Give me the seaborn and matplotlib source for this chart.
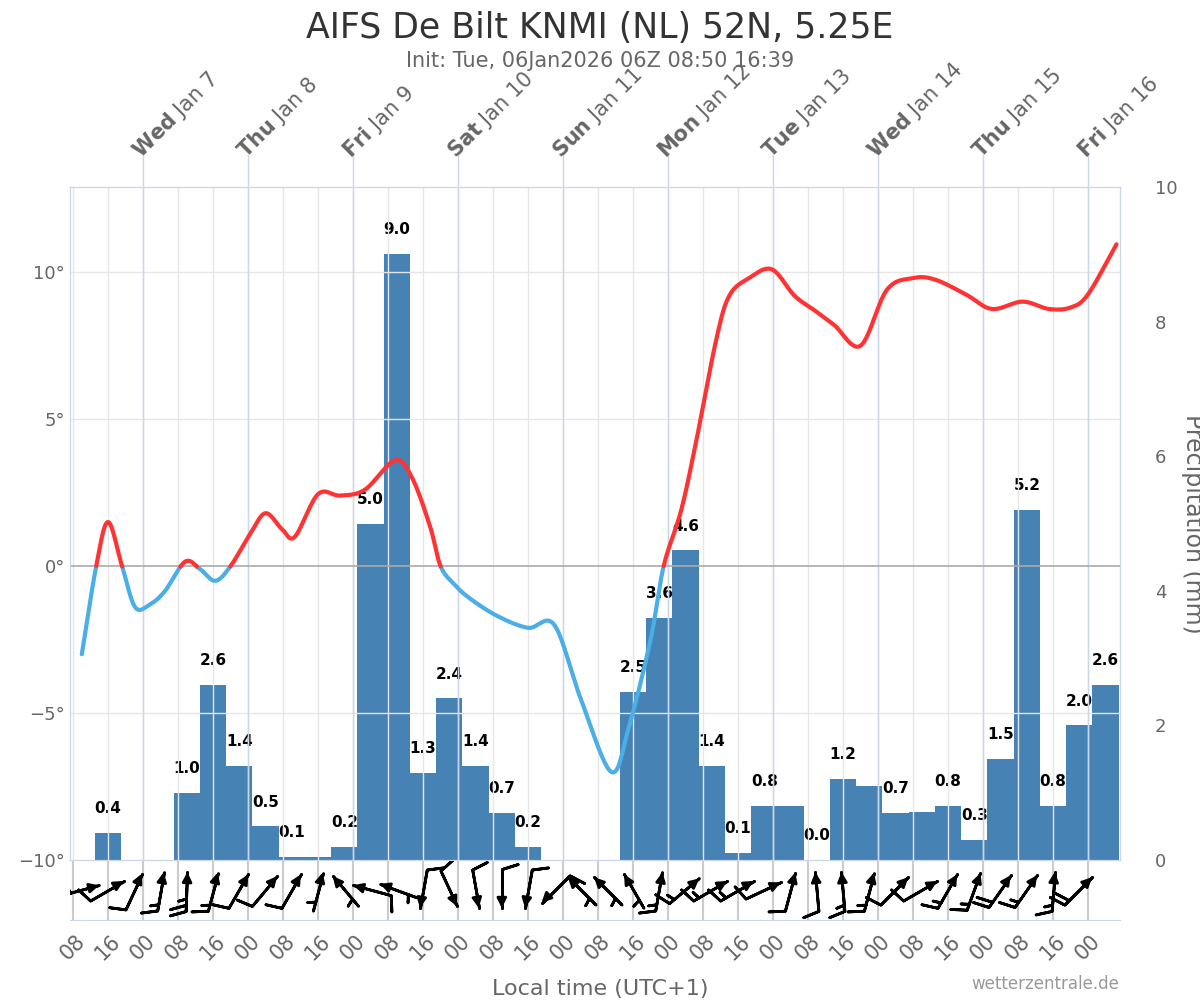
import numpy as np
import matplotlib
matplotlib.use("Agg")
import matplotlib.pyplot as plt
import matplotlib.transforms as mtransforms
import seaborn as sns

sns.set_style("white")
plt.rcParams["font.family"] = ["DejaVu Sans"]

# hours relative to Wed Jan 7 00 local time
START_H = -16.7
END_H = 223.3

# precipitation, 6-hour bins starting at hour -11
precip = [0.4, 0, 0, 1.0, 2.6, 1.4, 0.5, 0.05, 0.05, 0.2, 5.0, 9.0, 1.3, 2.4, 1.4, 0.7, 0.2,
          0, 0, 0, 2.5, 3.6, 4.6, 1.4, 0.1, 0.8, 0.8, 0.0, 1.2, 1.1, 0.7, 0.72, 0.8, 0.3,
          1.5, 5.2, 0.8, 2.0, 2.6]
precip_labels = ["0.4", "", "", "1.0", "2.6", "1.4", "0.5", "0.1", "", "0.2", "5.0", "9.0", "1.3",
                 "2.4", "1.4", "0.7", "0.2", "", "", "", "2.5", "3.6", "4.6", "1.4", "0.1", "0.8",
                 "", "0.0", "1.2", "", "0.7", "", "0.8", "0.3", "1.5", "5.2", "0.8", "2.0", "2.6"]

# temperature (deg C)
temp_h = [-14, -10.7, -8, -4.8, -1.8, 1.6, 5, 9.6, 13, 16.5, 20, 24.5, 28, 31.8, 34.7, 40, 45,
          50.7, 57.6, 61.5, 65.6, 68, 71, 74.7, 81, 88, 94, 100, 107, 111, 116, 119, 123, 126.5,
          131, 134, 138.5, 143.7, 148.9, 153.5, 158, 164, 170, 176, 181, 188, 194, 201, 207,
          212, 216, 222.5]
temp_v = [-3.0, 0, 1.5, 0, -1.4, -1.3, -0.85, 0.15, -0.1, -0.5, 0, 1.1, 1.8, 1.25, 1.0, 2.45,
          2.4, 2.6, 3.6, 3.0, 1.35, 0, -0.6, -1.1, -1.7, -2.1, -2.0, -4.5, -7.0, -5.5, -2.5, 0,
          1.9, 4.3, 7.7, 9.2, 9.8, 10.1, 9.2, 8.7, 8.2, 7.5, 9.4, 9.8, 9.75, 9.25, 8.75, 9.0,
          8.75, 8.8, 9.25, 10.95]

# wind: arrow heading on screen (deg, 90 = up) and speed (kt), every 6 h from hour -14
wind_dir = [15, 30, 65, 80, 88, 75, 60, 50, 60, 75, 130, 165, 160, 260, 295, 280, 270, 260,
            225, 135, 135, 120, 80, 40, 30, 30, 25, 75, 95, 95, 75, 45, 30, 60, 70, 55, 55,
            85, 45]
wind_spd = [5, 10, 10, 15, 25, 15, 10, 10, 10, 5, 5, 10, 5, 10, 10, 10, 10, 10, 10, 5, 5, 5,
            15, 15, 15, 15, 10, 10, 10, 15, 15, 10, 10, 15, 15, 20, 15, 15, 20]

days = ["Wed", "Thu", "Fri", "Sat", "Sun", "Mon", "Tue", "Wed", "Thu", "Fri"]
dates = ["Jan 7", "Jan 8", "Jan 9", "Jan 10", "Jan 11", "Jan 12", "Jan 13", "Jan 14", "Jan 15",
         "Jan 16"]


def catmull_rom(x, y, n=30):
    """Smooth curve through the read points, for drawing only."""
    x, y = np.asarray(x, float), np.asarray(y, float)
    px = np.concatenate([[2 * x[0] - x[1]], x, [2 * x[-1] - x[-2]]])
    py = np.concatenate([[2 * y[0] - y[1]], y, [2 * y[-1] - y[-2]]])
    xs, ys = [], []
    t = np.linspace(0, 1, n, endpoint=False)
    for i in range(1, len(px) - 2):
        for p, out in ((px, xs), (py, ys)):
            p0, p1, p2, p3 = p[i - 1], p[i], p[i + 1], p[i + 2]
            out.append(0.5 * (2 * p1 + (-p0 + p2) * t + (2 * p0 - 5 * p1 + 4 * p2 - p3) * t ** 2
                              + (-p0 + 3 * p1 - 3 * p2 + p3) * t ** 3))
    return np.concatenate(xs + [[x[-1]]]), np.concatenate(ys + [[y[-1]]])


fig = plt.figure(figsize=(12, 10), dpi=100)
ax = fig.add_axes([70 / 1200, 0.14, 1050 / 1200, 0.673])
ax2 = ax.twinx()

# grid
grid_h = np.arange(-16, END_H, 8)
for h in grid_h:
    ax.axvline(h, color="#e6e6e6", lw=1, zorder=0)
for t in [-5, 5, 10]:
    ax.axhline(t, color="#e6e6e6", lw=1, zorder=0)
for d in range(10):
    ax.axvline(24 * d, color="#ccd6eb", lw=1, zorder=0)
ax.axhline(0, color="#aaaaaa", lw=1.2, zorder=1)

# precipitation bars
edges = -11 + 6 * np.arange(len(precip))
ax2.bar(edges, precip, width=6, align="edge", color="#4682b4", linewidth=0, zorder=2)
for e, p, lab in zip(edges, precip, precip_labels):
    if lab:
        ax2.text(e + 3, p + 0.25, lab, ha="center", va="bottom", fontsize=11,
                 fontweight="bold", color="black")
ax2.set_ylim(0, 10)
ax2.set_yticks(range(0, 11, 2))
ax2.tick_params(axis="y", length=0, labelsize=13, colors="#666666", pad=25)
ax2.set_ylabel("Precipitation (mm)", rotation=270, fontsize=17, color="#666666", labelpad=20)

# temperature line coloured by sign
sx, sy = catmull_rom(temp_h, temp_v)
hh = np.linspace(sx[0], sx[-1], 4000)
tt = np.interp(hh, sx, sy)
ax.plot(hh, np.ma.masked_where(tt > 0.02, tt), color="#4baee6", lw=3, zorder=5)
ax.plot(hh, np.ma.masked_where(tt < -0.02, tt), color="#ff3333", lw=3, zorder=5)
ax.set_zorder(ax2.get_zorder() + 1)
ax.patch.set_visible(False)

ax.set_xlim(START_H, END_H)
ax.set_ylim(-10, 12.9)
ax.set_yticks([-10, -5, 0, 5, 10])
ax.set_yticklabels(["\u221210\u00b0", "\u22125\u00b0", "0\u00b0", "5\u00b0", "10\u00b0"])
ax.tick_params(axis="y", length=0, labelsize=13, colors="#666666")
ax.set_xticks([])
for a in (ax, ax2):
    for s in a.spines.values():
        s.set_color("#ccd6eb")

# wind row
wax = fig.add_axes([70 / 1200, 0.08, 1050 / 1200, 0.06])
wax.set_xlim(START_H, END_H)
wax.set_ylim(-1, 1)
for h in grid_h:
    wax.axvline(h, color="#cccccc", lw=1.5, zorder=0)
wh = -14 + 6 * np.arange(len(wind_dir))
rad = np.deg2rad(wind_dir)
ux, vy = np.cos(rad), np.sin(rad)
L = 13  # points, half the arrow length
for h, u, v, s in zip(wh, ux, vy, wind_spd):
    head = mtransforms.offset_copy(wax.transData, fig=fig, x=L * u, y=L * v, units="points")
    wax.barbs([h], [0], [s * u], [s * v], length=7.5, linewidth=2, color="black", zorder=3,
              pivot="tip", transform=head,
              sizes=dict(emptybarb=0, spacing=0.16, height=0.4))
    wax.annotate("", xy=(h, 0), xycoords=head, xytext=(-6 * u, -6 * v),
                 textcoords="offset points", annotation_clip=False,
                 arrowprops=dict(arrowstyle="-|>", color="black", lw=2, mutation_scale=14,
                                 shrinkA=0, shrinkB=0))
wax.set_xticks(np.arange(-16, END_H, 1), minor=True)
wax.tick_params(axis="x", which="minor", length=4, color="#cccccc", direction="in", width=1.5)
wax.set_xticks(grid_h)
wax.set_xticklabels([["00", "08", "16"][int((h % 24) // 8)] for h in grid_h],
                    rotation=45, fontsize=15, color="#666666")
wax.tick_params(axis="x", which="major", length=0, pad=8)
wax.set_yticks([])
for k, s in wax.spines.items():
    s.set_visible(k == "bottom")
wax.spines["bottom"].set_color("#ccd6eb")
wax.patch.set_visible(False)

# day labels at top
x0, x1 = 70, 1120
for d in range(10):
    px = x0 + (24 * d - START_H) / (END_H - START_H) * (x1 - x0)
    fx = px / 1200
    fig.add_artist(plt.Line2D([fx, fx], [0.813, 0.845], color="#ccd6eb", lw=1))
    fig.text(fx + 0.002, 0.837, f"$\\bf{{{days[d]}}}$ {dates[d]}", rotation=45,
             rotation_mode="anchor", ha="left", va="bottom", fontsize=15, color="#666666")

fig.text(0.5, 0.972, "AIFS De Bilt KNMI (NL) 52N, 5.25E", ha="center", va="center",
         fontsize=25, color="#333333")
fig.text(0.5, 0.939, "Init: Tue, 06Jan2026 06Z 08:50 16:39", ha="center", va="center",
         fontsize=15, color="#666666")
fig.text(0.5, 0.001, "Local time (UTC+1)", ha="center", va="bottom", fontsize=16,
         color="#666666")
fig.text(0.933, 0.016, "wetterzentrale.de", ha="right", va="center", fontsize=12,
         color="#999999")

fig.savefig("out.png", dpi=100)
